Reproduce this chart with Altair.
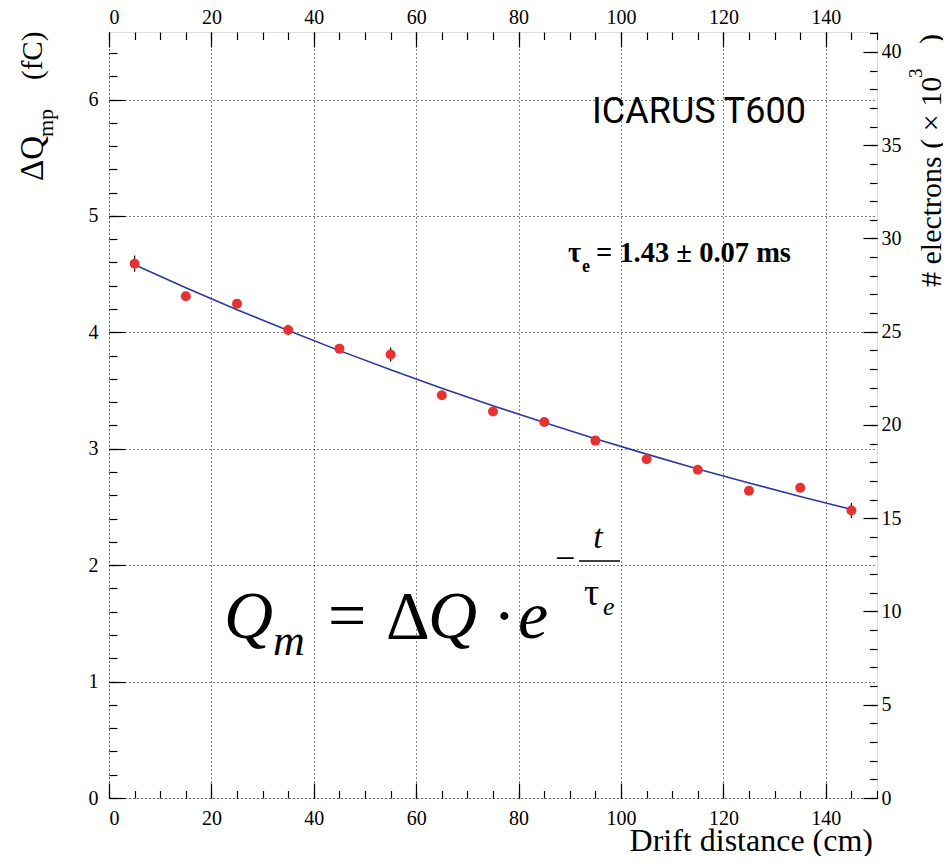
import altair as alt
import pandas as pd

# ---------------- data ----------------
drift_cm = [5, 15, 25, 35, 45, 55, 65, 75, 85, 95, 105, 115, 125, 135, 145]
charge_fc = [4.59, 4.31, 4.245, 4.02, 3.86, 3.81, 3.46, 3.32, 3.23, 3.07,
             2.91, 2.82, 2.64, 2.665, 2.47]
charge_err = [0.07, 0.035, 0.035, 0.045, 0.035, 0.06, 0.035, 0.035, 0.035,
              0.035, 0.035, 0.035, 0.04, 0.04, 0.065]

fit_cm = [5, 15, 25, 35, 45, 55, 65, 75, 85, 95, 105, 115, 125, 135, 145]
fit_fc = [4.58, 4.383, 4.195, 4.015, 3.843, 3.678, 3.520, 3.369, 3.225,
          3.086, 2.954, 2.827, 2.706, 2.590, 2.479]

x_major = [0, 20, 40, 60, 80, 100, 120, 140]
x_minor = list(range(0, 151, 5))
y_major = [0, 1, 2, 3, 4, 5, 6]
y_minor = [round(0.2 * i, 1) for i in range(33)]
e_major = [0, 5, 10, 15, 20, 25, 30, 35, 40]
e_minor = list(range(0, 42))

X_MAX = 150
Y_MAX = 6.58
KE_PER_FC = 6.2415

W, H = 768, 766

pts = pd.DataFrame({
    "x": drift_cm,
    "q": charge_fc,
    "lo": [q - e for q, e in zip(charge_fc, charge_err)],
    "hi": [q + e for q, e in zip(charge_fc, charge_err)],
})
fit = pd.DataFrame({"x": fit_cm, "q": fit_fc})
one = pd.DataFrame({"k": [0]})

xs = alt.Scale(domain=[0, X_MAX], nice=False, zero=False)
ys = alt.Scale(domain=[0, Y_MAX], nice=False)
es = alt.Scale(domain=[0, Y_MAX * KE_PER_FC], nice=False)

SERIF = "Liberation Serif"
RED = "#e83232"
BLUE = "#2b3a9e"

# ---------------- data marks ----------------
errs = alt.Chart(pts).mark_rule(color="black", strokeWidth=1.2).encode(
    x=alt.X("x:Q", scale=xs, axis=None),
    y=alt.Y("lo:Q", scale=ys, axis=None),
    y2="hi:Q",
)
line = alt.Chart(fit).mark_line(color=BLUE, strokeWidth=1.6, interpolate="monotone").encode(
    x=alt.X("x:Q", scale=xs, axis=None),
    y=alt.Y("q:Q", scale=ys, axis=None),
)
dots = alt.Chart(pts).mark_circle(size=100, color=RED, opacity=1).encode(
    x=alt.X("x:Q", scale=xs, axis=None),
    y=alt.Y("q:Q", scale=ys, axis=None),
)


def txt(s, x, y, size, font=SERIF, align="left", angle=0, **kw):
    return alt.Chart(one).mark_text(
        text=s, fontSize=size, font=font, align=align, baseline="alphabetic",
        angle=angle, color="black", **kw
    ).encode(x=alt.value(x), y=alt.value(y))


texts = [
    # experiment label
    txt("ICARUS T600", 483, 91, 36, font="Roboto"),
    # lifetime
    txt("τ", 459, 230, 28.5, fontWeight="bold"),
    txt("e", 473, 240, 18, fontWeight="bold"),
    txt("= 1.43 ± 0.07 ms", 487, 230, 28.5, fontWeight="bold"),
    # formula
    txt("Q", 115, 606, 68, fontStyle="italic"),
    txt("m", 164, 623, 44, fontStyle="italic"),
    txt("=", 219, 606, 68),
    txt("Δ", 277, 606, 68),
    txt("Q", 319, 606, 68, fontStyle="italic"),
    txt("·", 384, 606, 68),
    txt("e", 409, 606, 68, fontStyle="italic"),
    txt("−", 446, 538, 36),
    txt("t", 489, 516, 34, align="center", fontStyle="italic"),
    txt("τ", 475, 573, 38),
    txt("e", 494, 583, 26, fontStyle="italic"),
    # left axis title
    txt("ΔQ", -66, 149, 33, angle=270),
    txt("mp", -56, 105, 22, angle=270),
    txt("(fC)", -67, 48, 29, angle=270),
    # right axis title
    txt("# electrons ( × 10", 832, 255, 30, angle=270),
    txt("3", 813, 46, 19, angle=270),
    txt(")", 831, 12, 30, angle=270),
    # bottom axis title
    txt("Drift distance (cm)", 764, 819, 32, align="right"),
]

frac_bar = alt.Chart(one).mark_rule(color="black", strokeWidth=1.5).encode(
    x=alt.value(470), x2=alt.value(511), y=alt.value(529)
)

data_layer = alt.layer(errs, line, dots, frac_bar, *texts)

# ---------------- axes ----------------
lab = dict(labelFont=SERIF, labelFontSize=20, labelColor="black", title=None,
           ticks=False, tickSize=0, domain=False)
tick = dict(labels=False, domain=False, grid=False, ticks=True,
            tickColor="black", tickWidth=1.2, title=None)
grid = dict(grid=True, gridColor="black", gridDash=[1, 3], gridWidth=1, gridOpacity=1)


def xaxis(axis):
    return alt.Chart(pts).mark_point(opacity=0).encode(
        x=alt.X("x:Q", scale=xs, axis=axis))


def yaxis(axis, scale):
    return alt.Chart(pts).mark_point(opacity=0).encode(
        y=alt.Y("q:Q", scale=scale, axis=axis))


axes = [
    xaxis(alt.Axis(orient="bottom", values=x_major, labelPadding=10, **grid, **lab)),
    xaxis(alt.Axis(orient="top", values=x_major, labelPadding=5, grid=False, **lab)),
    xaxis(alt.Axis(orient="top", offset=-H, values=x_minor, tickSize=7.5, **tick)),
    xaxis(alt.Axis(orient="top", offset=-H, values=x_major, tickSize=15, **tick)),
    xaxis(alt.Axis(orient="bottom", offset=-H, values=x_minor, tickSize=7.5, **tick)),
    xaxis(alt.Axis(orient="bottom", offset=-H, values=x_major, tickSize=15, **tick)),
    yaxis(alt.Axis(orient="left", values=y_major, labelPadding=11, **grid, **lab), ys),
    yaxis(alt.Axis(orient="right", offset=-W, values=y_minor, tickSize=8, **tick), ys),
    yaxis(alt.Axis(orient="right", offset=-W, values=y_major, tickSize=16, **tick), ys),
    yaxis(alt.Axis(orient="right", values=e_major, labelPadding=4, grid=False, **lab), es),
    yaxis(alt.Axis(orient="left", offset=-W, values=e_minor, tickSize=7.5, **tick), es),
    yaxis(alt.Axis(orient="left", offset=-W, values=e_major, tickSize=14, **tick), es),
]

chart = alt.layer(data_layer, *axes).resolve_scale(
    x="independent", y="independent"
).properties(
    width=W, height=H,
    autosize=alt.AutoSizeParams(type="none"),
    padding={"left": 101, "top": 24, "right": 66, "bottom": 58},
).configure_view(stroke="black", strokeWidth=1.6).configure(background="white")

chart.save("out.html", embed_options={"renderer": "svg", "actions": False})
